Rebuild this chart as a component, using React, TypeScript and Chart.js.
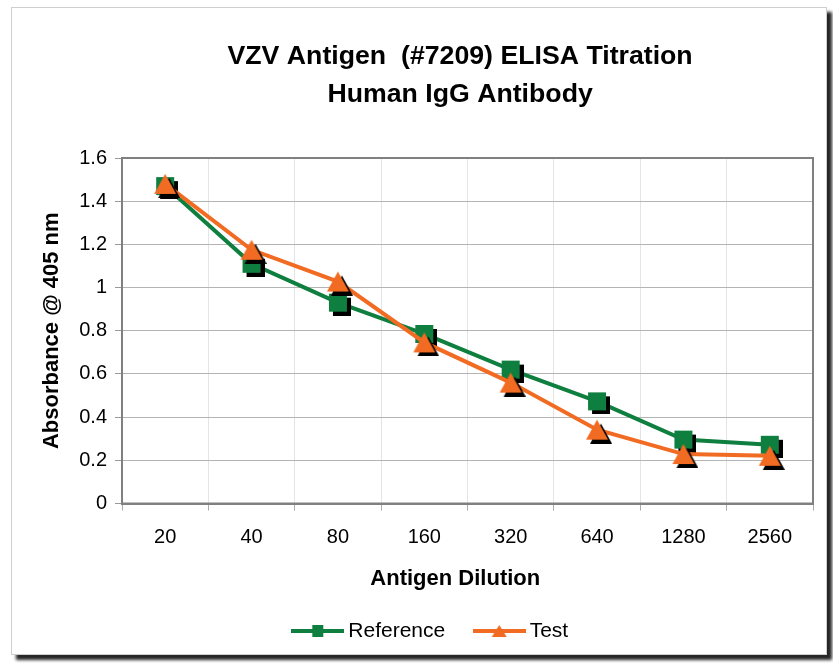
import React, { useEffect, useRef } from "react";
import { Chart, registerables } from "chart.js";

Chart.register(...registerables);

const chartTitle = ["VZV Antigen  (#7209) ELISA Titration  ", "Human IgG Antibody  "];
const xAxisTitle = "Antigen Dilution    ";
const yAxisTitle = "Absorbance @ 405 nm";
const categories = ["20", "40", "80", "160", "320", "640", "1280", "2560"];
const referenceValues = [1.47, 1.11, 0.93, 0.785, 0.62, 0.473, 0.296, 0.272];
const testValues = [1.48, 1.175, 1.028, 0.746, 0.56, 0.342, 0.229, 0.221];
const seriesNames = ["Reference", "Test"];

const GREEN = "#0f7f3f";
const ORANGE = "#f26b22";
const FONT = "'Liberation Sans', Arial, Helvetica, sans-serif";

function makeSquare(color: string, side: number, off: number) {
  const half = side / 2;
  const size = Math.ceil(2 * (half + off));
  const c = document.createElement("canvas");
  c.width = size;
  c.height = size;
  const ctx = c.getContext("2d")!;
  const cx = size / 2;
  if (off) {
    ctx.fillStyle = "#000";
    ctx.fillRect(cx - half + off, cx - half + off, side, side);
  }
  ctx.fillStyle = color;
  ctx.fillRect(cx - half, cx - half, side, side);
  return c;
}

function makeTriangle(color: string, base: number, height: number, off: number) {
  const w = Math.ceil(2 * (base / 2 + off));
  const h = Math.ceil(2 * (height / 2 + off));
  const c = document.createElement("canvas");
  c.width = w;
  c.height = h;
  const ctx = c.getContext("2d")!;
  const cx = w / 2;
  const cy = h / 2;
  const tri = (dx: number, dy: number, fill: string) => {
    ctx.beginPath();
    ctx.moveTo(cx + dx, cy - height / 2 + dy);
    ctx.lineTo(cx + base / 2 + dx, cy + height / 2 + dy);
    ctx.lineTo(cx - base / 2 + dx, cy + height / 2 + dy);
    ctx.closePath();
    ctx.fillStyle = fill;
    ctx.fill();
  };
  if (off) tri(off, off, "#000");
  tri(0, 0, color);
  return c;
}

function makeLegendImg(color: string, shape: "square" | "triangle") {
  const w = 53;
  const h = 16;
  const c = document.createElement("canvas");
  c.width = w;
  c.height = h;
  const ctx = c.getContext("2d")!;
  ctx.fillStyle = color;
  ctx.fillRect(0, h / 2 - 2, w, 4);
  if (shape === "square") {
    ctx.fillRect(w / 2 - 5.5, h / 2 - 6, 11, 12);
  } else {
    ctx.beginPath();
    ctx.moveTo(w / 2, h / 2 - 6);
    ctx.lineTo(w / 2 + 7.5, h / 2 + 6);
    ctx.lineTo(w / 2 - 7.5, h / 2 + 6);
    ctx.closePath();
    ctx.fill();
  }
  return c;
}

const plotBorder = {
  id: "plotBorder",
  beforeDatasetsDraw(chart: any) {
    const { ctx, chartArea } = chart;
    ctx.save();
    ctx.strokeStyle = "#808080";
    ctx.lineWidth = 2;
    ctx.strokeRect(chartArea.left, chartArea.top, chartArea.right - chartArea.left, chartArea.bottom - chartArea.top);
    ctx.restore();
  },
};

export default function App() {
  const ref = useRef<HTMLCanvasElement | null>(null);

  useEffect(() => {
    if (!ref.current) return;
    const sq = makeSquare(GREEN, 18, 4);
    const tr = makeTriangle(ORANGE, 22, 20, 4);
    const legendImgs = [makeLegendImg(GREEN, "square"), makeLegendImg(ORANGE, "triangle")];

    const chart = new Chart(ref.current, {
      type: "line",
      data: {
        labels: categories,
        datasets: [
          {
            label: seriesNames[0],
            data: referenceValues,
            borderColor: GREEN,
            backgroundColor: GREEN,
            borderWidth: 4,
            tension: 0,
            pointStyle: sq as any,
            pointRadius: 10,
            order: 1,
          },
          {
            label: seriesNames[1],
            data: testValues,
            borderColor: ORANGE,
            backgroundColor: ORANGE,
            borderWidth: 4,
            tension: 0,
            pointStyle: tr as any,
            pointRadius: 10,
            order: 0,
          },
        ],
      },
      options: {
        responsive: false,
        animation: false,
        layout: { padding: { left: 53, right: 20, top: 0, bottom: 13.5 } },
        plugins: {
          tooltip: { enabled: false },
          title: {
            display: true,
            text: chartTitle,
            fullSize: false,
            color: "#000",
            font: { family: FONT, size: 26.7, weight: "bold", lineHeight: "38px" } as any,
            padding: { top: 38, bottom: 44 },
          },
          legend: {
            display: true,
            position: "bottom",
            labels: {
              usePointStyle: true,
              pointStyleWidth: 40,
              padding: 34,
              color: "#000",
              font: { family: FONT, size: 21 },
              generateLabels: (ch: any) =>
                ch.data.datasets.map((ds: any, i: number) => ({
                  text: ds.label,
                  pointStyle: legendImgs[i],
                  fillStyle: ds.borderColor,
                  strokeStyle: ds.borderColor,
                  lineWidth: 0,
                  hidden: false,
                  datasetIndex: i,
                  fontColor: "#000",
                })),
            },
          },
        },
        scales: {
          x: {
            type: "category",
            offset: true,
            grid: { offset: true, color: "#e4e4e4", tickColor: "#aaaaaa", tickLength: 7, lineWidth: 1 },
            border: { display: true, color: "#808080", width: 2 },
            ticks: { color: "#000", font: { family: FONT, size: 20 }, padding: 15, maxRotation: 0 },
            title: {
              display: true,
              text: xAxisTitle,
              color: "#000",
              font: { family: FONT, size: 22, weight: "bold" },
              padding: { top: 0, bottom: -6 },
            },
            afterFit: (s: any) => {
              s.height = 83;
            },
          },
          y: {
            min: 0,
            max: 1.6,
            ticks: {
              stepSize: 0.2,
              color: "#000",
              font: { family: FONT, size: 20 },
              padding: 8,
              callback: (v: any) => String(Number(Number(v).toFixed(2))),
            },
            grid: { color: "#b4b4b4", tickColor: "#999999", tickLength: 7, lineWidth: 1 },
            border: { display: true, color: "#808080", width: 2 },
            title: {
              display: true,
              text: yAxisTitle,
              color: "#000",
              font: { family: FONT, size: 22, weight: "bold" },
              padding: { top: -14.2, bottom: 0 },
            },
            afterFit: (s: any) => {
              s.width = 69;
            },
          },
        },
      },
      plugins: [plotBorder],
    } as any);
    return () => chart.destroy();
  }, []);

  return (
    <div style={{ position: "fixed", left: 0, top: 0, width: 833, height: 665, background: "#fff", overflow: "hidden" }}>
      <div
        style={{
          position: "absolute",
          left: 11,
          top: 7,
          width: 814,
          height: 646,
          border: "1px solid #cfcfcf",
          boxShadow: "5px 5px 3px rgba(0,0,0,0.85)",
          background: "#fff",
        }}
      />
      <canvas ref={ref} width={833} height={665} style={{ position: "absolute", left: 0, top: 0, width: 833, height: 665 }} />
    </div>
  );
}
